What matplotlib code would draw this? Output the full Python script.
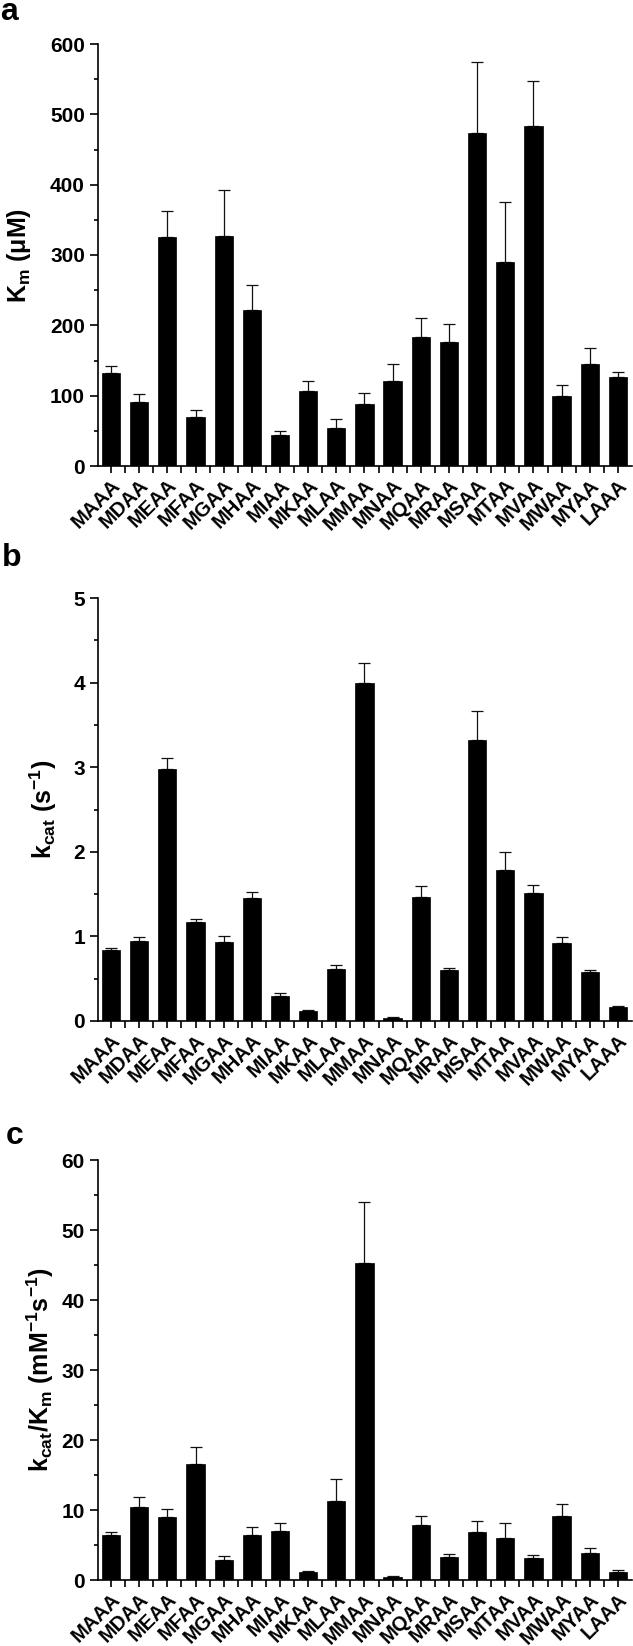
import matplotlib
matplotlib.use('Agg')
import matplotlib.pyplot as plt
import numpy as np
from matplotlib.ticker import MultipleLocator, FixedLocator

peptides = ['MAAA', 'MDAA', 'MEAA', 'MFAA', 'MGAA', 'MHAA', 'MIAA', 'MKAA', 'MLAA', 'MMAA',
            'MNAA', 'MQAA', 'MRAA', 'MSAA', 'MTAA', 'MVAA', 'MWAA', 'MYAA', 'LAAA']

km = [132, 91, 326, 70, 327, 222, 44, 107, 53.5, 88, 121, 184, 177, 474, 290, 484, 99, 145, 126]
km_err = [10, 11, 36, 10, 66, 36, 6, 14, 14, 15.5, 24, 26, 25, 101, 86, 63, 16, 23, 7]

kcat = [0.84, 0.95, 2.98, 1.17, 0.93, 1.45, 0.30, 0.12, 0.61, 4.00, 0.04, 1.47, 0.60, 3.32,
        1.78, 1.51, 0.92, 0.58, 0.16]
kcat_err = [0.02, 0.04, 0.13, 0.04, 0.075, 0.07, 0.035, 0.01, 0.05, 0.23, 0.01, 0.12, 0.03,
            0.34, 0.22, 0.10, 0.07, 0.025, 0.015]

eff = [6.4, 10.4, 9.0, 16.6, 2.86, 6.4, 7.0, 1.1, 11.3, 45.3, 0.44, 7.9, 3.3, 6.9, 6.0, 3.1,
       9.2, 3.9, 1.2]
eff_err = [0.4, 1.4, 1.1, 2.4, 0.6, 1.15, 1.15, 0.22, 3.2, 8.7, 0.1, 1.3, 0.45, 1.6, 2.1, 0.45,
           1.65, 0.7, 0.27]

panel_letters = ['a', 'b', 'c']

plt.rcParams['font.family'] = ['Liberation Sans', 'DejaVu Sans']
plt.rcParams['font.weight'] = 'bold'
plt.rcParams['mathtext.fontset'] = 'custom'
plt.rcParams['mathtext.rm'] = 'Liberation Sans'
plt.rcParams['mathtext.bf'] = 'Liberation Sans:bold'
plt.rcParams['mathtext.it'] = 'Liberation Sans:bold'

W, H = 633, 1646
fig = plt.figure(figsize=(W / 100, H / 100), dpi=100)


def add_ax(top, bottom, left=97.5, right=632):
    return fig.add_axes([left / W, 1 - bottom / H, (right - left) / W, (bottom - top) / H])


panels = [
    dict(top=44, bottom=466, vals=km, errs=km_err, ymax=600, major=100, minor=50,
         label=r'K$_{\mathrm{m}}$ (μM)', labx=-0.12, letter_xy=(0, 20)),
    dict(top=598, bottom=1021, vals=kcat, errs=kcat_err, ymax=5, major=1, minor=0.5,
         label=r'k$_{\mathbf{cat}}$ (s$^{\mathbf{-1}}$)', labx=-0.072, letter_xy=(2, 566)),
    dict(top=1160, bottom=1580, vals=eff, errs=eff_err, ymax=60, major=10, minor=5,
         label=r'k$_{\mathbf{cat}}$/K$_{\mathrm{m}}$ (mM$^{\mathbf{-1}}$s$^{\mathbf{-1}}$)',
         labx=-0.078, letter_xy=(6, 1144)),
]

x = np.arange(len(peptides))
for p, letter in zip(panels, panel_letters):
    ax = add_ax(p['top'], p['bottom'])
    errs = np.array(p['errs'])
    ax.bar(x, p['vals'], width=0.65, color='black', edgecolor='black', linewidth=0.5,
           zorder=2)
    ax.errorbar(x, p['vals'], yerr=[np.zeros_like(errs), errs], fmt='none', ecolor='#111111',
                elinewidth=0.9, capsize=4.5, capthick=0.9, zorder=1)
    ax.set_xlim(-0.48, 18.5)
    ax.set_ylim(0, p['ymax'])
    ax.yaxis.set_major_locator(MultipleLocator(p['major']))
    ax.yaxis.set_minor_locator(MultipleLocator(p['minor']))
    ax.set_xticks(x)
    ax.set_xticklabels(peptides, rotation=45, ha='right', va='top', rotation_mode='anchor',
                       fontsize=14.5, fontweight='bold')
    ax.xaxis.set_minor_locator(FixedLocator(np.arange(0.5, 18.0, 1.0)))
    for s in ['top', 'right']:
        ax.spines[s].set_visible(False)
    for s in ['left', 'bottom']:
        ax.spines[s].set_linewidth(1.2)
    ax.tick_params(axis='y', which='major', direction='out', length=6, width=1.2,
                   labelsize=15, pad=3)
    ax.tick_params(axis='y', which='minor', direction='out', length=3, width=1.2)
    ax.tick_params(axis='x', which='major', direction='out', length=5, width=1.2, pad=2)
    ax.tick_params(axis='x', which='minor', direction='out', length=5, width=1.2)
    for lab in ax.get_yticklabels():
        lab.set_fontweight('bold')
    ax.set_ylabel(p['label'], fontsize=18, fontweight='bold')
    ax.yaxis.set_label_coords(p['labx'], 0.5)
    lx, ly = p['letter_xy']
    fig.text(lx / W, 1 - ly / H, letter, fontsize=23, fontweight='bold', ha='left',
             va='baseline')

fig.savefig('out.png', dpi=100)
